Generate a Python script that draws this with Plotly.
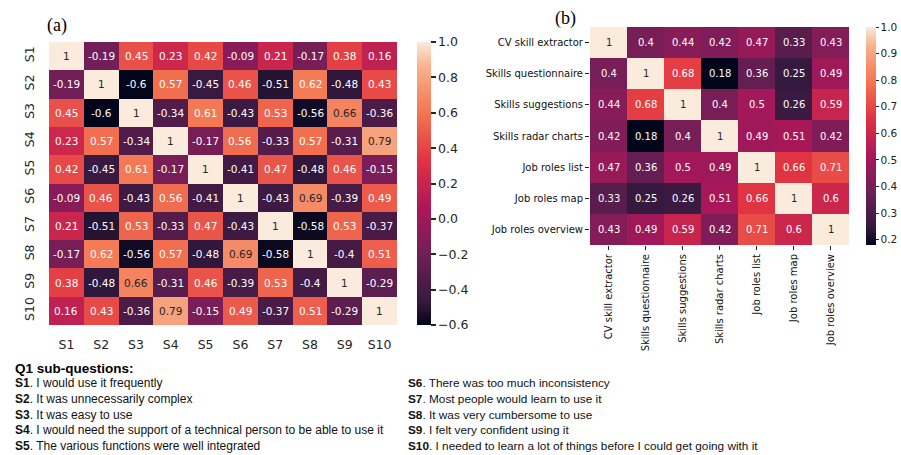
import plotly.graph_objects as go

W, H = 901, 455

# ---- Panel (a): SUS sub-question correlations ----
sus_labels = ["S1", "S2", "S3", "S4", "S5", "S6", "S7", "S8", "S9", "S10"]
sus_corr = [
    [1, -0.19, 0.45, 0.23, 0.42, -0.09, 0.21, -0.17, 0.38, 0.16],
    [-0.19, 1, -0.6, 0.57, -0.45, 0.46, -0.51, 0.62, -0.48, 0.43],
    [0.45, -0.6, 1, -0.34, 0.61, -0.43, 0.53, -0.56, 0.66, -0.36],
    [0.23, 0.57, -0.34, 1, -0.17, 0.56, -0.33, 0.57, -0.31, 0.79],
    [0.42, -0.45, 0.61, -0.17, 1, -0.41, 0.47, -0.48, 0.46, -0.15],
    [-0.09, 0.46, -0.43, 0.56, -0.41, 1, -0.43, 0.69, -0.39, 0.49],
    [0.21, -0.51, 0.53, -0.33, 0.47, -0.43, 1, -0.58, 0.53, -0.37],
    [-0.17, 0.62, -0.56, 0.57, -0.48, 0.69, -0.58, 1, -0.4, 0.51],
    [0.38, -0.48, 0.66, -0.31, 0.46, -0.39, 0.53, -0.4, 1, -0.29],
    [0.16, 0.43, -0.36, 0.79, -0.15, 0.49, -0.37, 0.51, -0.29, 1],
]
sus_ticks = [-0.6, -0.4, -0.2, 0.0, 0.2, 0.4, 0.6, 0.8, 1.0]

# ---- Panel (b): feature correlations ----
feat_labels = ["CV skill extractor", "Skills questionnaire", "Skills suggestions",
               "Skills radar charts", "Job roles list", "Job roles map",
               "Job roles overview"]
feat_corr = [
    [1, 0.4, 0.44, 0.42, 0.47, 0.33, 0.43],
    [0.4, 1, 0.68, 0.18, 0.36, 0.25, 0.49],
    [0.44, 0.68, 1, 0.4, 0.5, 0.26, 0.59],
    [0.42, 0.18, 0.4, 1, 0.49, 0.51, 0.42],
    [0.47, 0.36, 0.5, 0.49, 1, 0.66, 0.71],
    [0.33, 0.25, 0.26, 0.51, 0.66, 1, 0.6],
    [0.43, 0.49, 0.59, 0.42, 0.71, 0.6, 1],
]
feat_ticks = [0.2, 0.3, 0.4, 0.5, 0.6, 0.7, 0.8, 0.9, 1.0]

questions_left = [
    ("S1", "I would use it frequently"),
    ("S2", "It was unnecessarily complex"),
    ("S3", "It was easy to use"),
    ("S4", "I would need the support of a technical person to be able to use it"),
    ("S5", "The various functions were well integrated"),
]
questions_right = [
    ("S6", "There was too much inconsistency"),
    ("S7", "Most people would learn to use it"),
    ("S8", "It was very cumbersome to use"),
    ("S9", "I felt very confident using it"),
    ("S10", "I needed to learn a lot of things before I could get going with it"),
]

# seaborn "rocket" colormap approximation
rocket = [
    [0.0, "#03051a"], [0.083, "#35193e"], [0.25, "#701f57"], [0.417, "#ad1759"],
    [0.583, "#e13342"], [0.75, "#f37651"], [0.917, "#f6b48f"], [1.0, "#faebdd"],
]


def px_x(p):
    return p / W


def px_y(p):
    return 1 - p / H


fig = go.Figure()

# heatmap areas (pixels)
L_x0, L_x1, L_y0, L_y1 = 49, 397, 42, 325
R_x0, R_x1, R_y0, R_y1 = 590, 849, 27, 245

zmin_a, zmax_a = -0.6, 1.0
zmin_b, zmax_b = 0.18, 1.0

fig.add_trace(go.Heatmap(
    z=sus_corr, x=sus_labels, y=sus_labels, colorscale=rocket,
    zmin=zmin_a, zmax=zmax_a, xaxis="x", yaxis="y", hoverinfo="skip",
    colorbar=dict(
        x=px_x(417), xanchor="left", y=px_y((L_y0 + L_y1) / 2), yanchor="middle",
        len=(L_y1 - L_y0) / H, lenmode="fraction", thickness=14, thicknessmode="pixels",
        outlinewidth=0, ypad=0, xpad=0, tickvals=sus_ticks, tickformat=".1f",
        ticks="outside", ticklen=5, tickwidth=1.5, tickcolor="#262626",
        tickfont=dict(family="DejaVu Sans", size=12.5, color="#262626"),
    ),
))

fig.add_trace(go.Heatmap(
    z=feat_corr, x=feat_labels, y=feat_labels, colorscale=rocket,
    zmin=zmin_b, zmax=zmax_b, xaxis="x2", yaxis="y2", hoverinfo="skip",
    colorbar=dict(
        x=px_x(866), xanchor="left", y=px_y((R_y0 + R_y1) / 2), yanchor="middle",
        len=(R_y1 - R_y0) / H, lenmode="fraction", thickness=10, thicknessmode="pixels",
        outlinewidth=0, ypad=0, xpad=0, tickvals=feat_ticks, tickformat=".1f",
        ticks="outside", ticklen=3, tickwidth=1, tickcolor="#222",
        tickfont=dict(family="DejaVu Sans", size=10.5, color="#222"),
    ),
))

annotations = []


def cell_text(v):
    return format(v, ".2g")


def text_color(v, lo, hi):
    return "#262626" if (v - lo) / (hi - lo) > 0.775 else "white"


for i, row in enumerate(sus_corr):
    for j, v in enumerate(row):
        annotations.append(dict(
            x=sus_labels[j], y=sus_labels[i], xref="x", yref="y",
            text=cell_text(v), showarrow=False,
            font=dict(family="DejaVu Sans", size=10.5, color=text_color(v, zmin_a, zmax_a)),
        ))

for i, row in enumerate(feat_corr):
    for j, v in enumerate(row):
        annotations.append(dict(
            x=feat_labels[j], y=feat_labels[i], xref="x2", yref="y2",
            text=cell_text(v), showarrow=False,
            font=dict(family="DejaVu Sans", size=10, color=text_color(v, zmin_b, zmax_b)),
        ))

# panel letters
annotations.append(dict(x=px_x(45), y=px_y(25), xref="paper", yref="paper",
                        xanchor="left", yanchor="middle", text="(a)", showarrow=False,
                        font=dict(family="Liberation Serif", size=18, color="black")))
annotations.append(dict(x=px_x(553), y=px_y(19), xref="paper", yref="paper",
                        xanchor="left", yanchor="middle", text="(b)", showarrow=False,
                        font=dict(family="Liberation Serif", size=18, color="black")))

# question legend below the panels
annotations.append(dict(x=px_x(13), y=px_y(368), xref="paper", yref="paper",
                        xanchor="left", yanchor="middle", text="<b>Q1 sub-questions:</b>",
                        showarrow=False,
                        font=dict(family="Liberation Sans", size=13.5, color="black")))
line_y = [383, 399, 414.5, 430, 446]
for k, (code, txt) in enumerate(questions_left):
    annotations.append(dict(x=px_x(13), y=px_y(line_y[k]), xref="paper", yref="paper",
                            xanchor="left", yanchor="middle",
                            text=f"<b>{code}</b>. {txt}", showarrow=False,
                            font=dict(family="Liberation Sans", size=12, color="#111")))
for k, (code, txt) in enumerate(questions_right):
    annotations.append(dict(x=px_x(406), y=px_y(line_y[k]), xref="paper", yref="paper",
                            xanchor="left", yanchor="middle",
                            text=f"<b>{code}</b>. {txt}", showarrow=False,
                            font=dict(family="Liberation Sans", size=11.8, color="#111")))

fig.update_layout(
    width=W, height=H,
    margin=dict(l=0, r=0, t=0, b=0),
    paper_bgcolor="white", plot_bgcolor="white",
    showlegend=False,
    annotations=annotations,
    xaxis=dict(domain=[px_x(L_x0), px_x(L_x1)], anchor="y", showgrid=False,
               zeroline=False, ticks="outside", ticklen=8, tickcolor="rgba(0,0,0,0)",
               showline=False,
               tickfont=dict(family="DejaVu Sans", size=12.5, color="#262626")),
    yaxis=dict(domain=[px_y(L_y1), px_y(L_y0)], anchor="x", autorange="reversed",
               showgrid=False, zeroline=False, ticks="outside", ticklen=9,
               tickcolor="rgba(0,0,0,0)", tickangle=-90,
               tickfont=dict(family="DejaVu Sans", size=12.5, color="#262626")),
    xaxis2=dict(domain=[px_x(R_x0), px_x(R_x1)], anchor="y2", showgrid=False,
                zeroline=False, ticks="outside", ticklen=4, tickcolor="#222",
                tickangle=-90,
                tickfont=dict(family="DejaVu Sans", size=10, color="#111")),
    yaxis2=dict(domain=[px_y(R_y1), px_y(R_y0)], anchor="x2", autorange="reversed",
                showgrid=False, zeroline=False, ticks="outside", ticklen=4,
                tickcolor="#222",
                tickfont=dict(family="DejaVu Sans", size=10, color="#111")),
)

fig.write_html("out.html")
